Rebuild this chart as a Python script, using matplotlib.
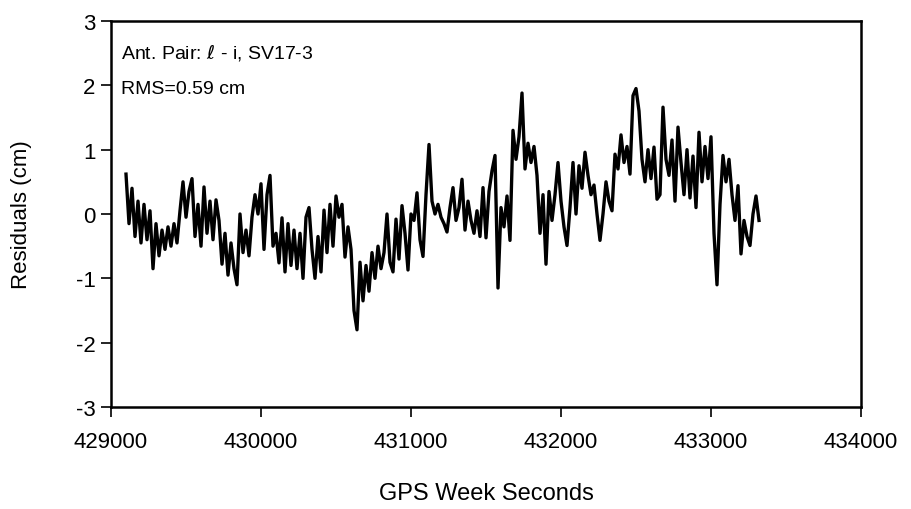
import numpy as np
import matplotlib
matplotlib.use("Agg")
import matplotlib.pyplot as plt

plt.rcParams['font.family'] = ['Liberation Sans', 'DejaVu Sans']

t_start = 429100
t_step = 20
residuals = [
    0.62, -0.15, 0.40, -0.35, 0.20, -0.45, 0.15, -0.40, 0.05, -0.85,
    -0.15, -0.65, -0.25, -0.55, -0.20, -0.50, -0.15, -0.45, 0.05, 0.50,
    -0.05, 0.35, 0.55, -0.35, 0.15, -0.50, 0.42, -0.30, 0.20, -0.40,
    0.22, -0.10, -0.78, -0.30, -0.95, -0.45, -0.85, -1.10, 0.00, -0.60,
    -0.25, -0.65,
    -0.05, 0.30, 0.00, 0.47, -0.55, 0.30, 0.60, -0.50, -0.30, -0.76,
    -0.06, -0.90, -0.15, -0.80, -0.25, -0.85, -0.30, -1.00, -0.05, 0.10,
    -0.55, -1.00, -0.35, -0.90, 0.06, -0.60, 0.15, -0.50, 0.28, -0.05,
    0.15, -0.67, -0.20, -0.55, -1.50, -1.80, -0.75, -1.35, -0.80, -1.20,
    -0.60, -1.00,
    -0.50, -0.85, -0.60, 0.00, -0.75, -0.90, -0.08, -0.70, 0.13, -0.30,
    -0.87, 0.00, -0.10, 0.33, -0.40, -0.66, 0.30, 1.08, 0.20, 0.00,
    0.15, -0.05, -0.15, -0.28, 0.10, 0.41, -0.10, 0.10, 0.54, -0.25,
    0.20, -0.10, -0.30, 0.05, -0.35, 0.41, -0.37, 0.35, 0.67, 0.91,
    -1.15, 0.10,
    -0.20, 0.28, -0.41, 1.30, 0.85, 1.20, 1.88, 0.70, 1.10, 0.80,
    1.05, 0.60, -0.30, 0.30, -0.78, 0.35, -0.10, 0.30, 0.80, 0.20,
    -0.20, -0.49, 0.10, 0.80, 0.00, 0.75, 0.40, 0.96, 0.60, 0.30,
    0.45, 0.00, -0.41, 0.00, 0.50, 0.20, 0.05, 0.93, 0.70, 1.23,
    0.80, 1.05,
    0.62, 1.84, 1.95, 1.60, 0.85, 0.50, 1.00, 0.55, 1.04, 0.23,
    0.30, 1.66, 0.85, 0.60, 1.15, 0.20, 1.35, 0.80, 0.30, 1.00,
    0.25, 0.90, 0.10, 1.27, 0.50, 1.05, 0.55, 1.20, -0.30, -1.10,
    0.15, 0.91, 0.50, 0.85, 0.30, -0.10, 0.44, -0.62, -0.10, -0.35,
    -0.49, 0.00, 0.28, -0.10,
]
gps_seconds = t_start + t_step * np.arange(len(residuals))

x_ticks = [429000, 430000, 431000, 432000, 433000, 434000]
y_ticks = [-3, -2, -1, 0, 1, 2, 3]

fig = plt.figure(figsize=(9.11, 5.10), dpi=100)
ax = fig.add_axes([111/911, 1 - 408/510, 750/911, 386/510])
ax.plot(gps_seconds, residuals, color='black', linewidth=2.4)

ax.set_xlim(429000, 434000)
ax.set_ylim(-3, 3)
ax.set_xticks(x_ticks)
ax.set_xticklabels([str(v) for v in x_ticks])
ax.set_yticks(y_ticks)
ax.set_yticklabels([str(v) for v in y_ticks])
ax.tick_params(direction='out', length=7, width=1.2, labelsize=16)
ax.tick_params(axis='x', pad=10)
ax.tick_params(axis='y', pad=4)
for s in ax.spines.values():
    s.set_linewidth(1.8)

ax.set_xlabel('GPS Week Seconds', fontsize=17)
ax.set_ylabel('Residuals (cm)', fontsize=16)
ax.xaxis.set_label_coords(0.5, -0.195)
ax.yaxis.set_label_coords(-0.105, 0.5)

ax.text(0.013, 0.922, 'Ant. Pair: $\\ell$ - i, SV17-3', transform=ax.transAxes,
        fontsize=14, va='center', ha='left')
ax.text(0.013, 0.826, 'RMS=0.59 cm', transform=ax.transAxes,
        fontsize=14, va='center', ha='left')

fig.savefig('out.png', dpi=100)
